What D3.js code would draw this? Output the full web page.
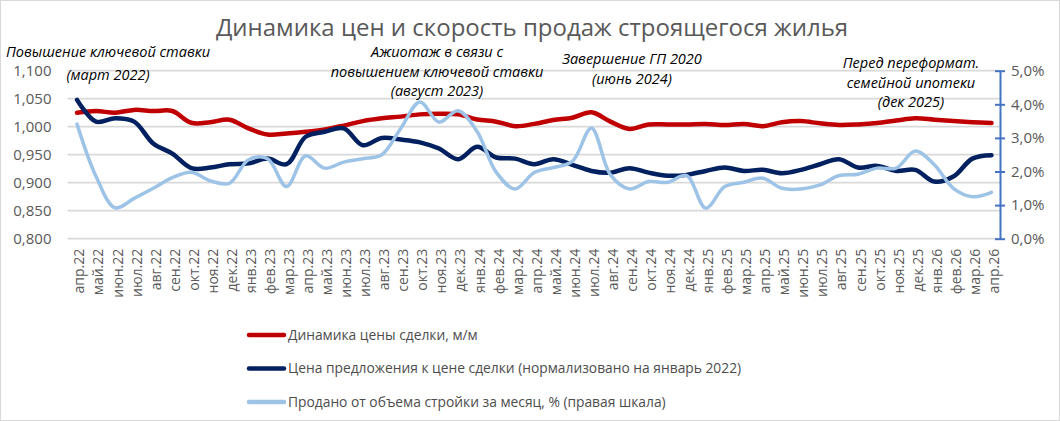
<!DOCTYPE html>
<html>
<head>
<meta charset="utf-8">
<script src="https://cdn.jsdelivr.net/npm/d3@7"></script>
<style>
  body { margin: 0; background: #fff; }
  text { font-family: "Open Sans", sans-serif; }
</style>
</head>
<body>
<script>
"use strict"

// categories: months apr.22 .. apr.26
var months = ["апр.22","май.22","июн.22","июл.22","авг.22","сен.22","окт.22","ноя.22","дек.22",
    "янв.23","фев.23","мар.23","апр.23","май.23","июн.23","июл.23","авг.23","сен.23","окт.23","ноя.23","дек.23",
    "янв.24","фев.24","мар.24","апр.24","май.24","июн.24","июл.24","авг.24","сен.24","окт.24","ноя.24","дек.24",
    "янв.25","фев.25","мар.25","апр.25","май.25","июн.25","июл.25","авг.25","сен.25","окт.25","ноя.25","дек.25",
    "янв.26","фев.26","мар.26","апр.26"];

// red: deal price dynamics, m/m (left axis)
var dealPrice = [1.025,1.028,1.025,1.030,1.028,1.028,1.007,1.008,1.0125,
    0.997,0.986,0.988,0.991,0.995,1.002,1.010,1.015,1.018,1.022,1.023,1.022,
    1.013,1.009,1.001,1.005,1.012,1.016,1.0256,1.009,0.996,1.004,1.004,1.004,
    1.005,1.003,1.005,1.001,1.008,1.010,1.006,1.003,1.004,1.0065,1.011,1.015,
    1.0125,1.010,1.008,1.0065];

// navy: offer price to deal price (left axis)
var offerRatio = [1.048,1.009,1.015,1.009,0.970,0.952,0.926,0.927,0.933,
    0.9345,0.943,0.933,0.982,0.991,0.997,0.967,0.980,0.977,0.972,0.961,0.942,
    0.964,0.945,0.943,0.933,0.942,0.932,0.921,0.918,0.926,0.918,0.9125,0.914,
    0.921,0.927,0.921,0.923,0.917,0.923,0.933,0.942,0.927,0.930,0.921,0.923,
    0.902,0.911,0.943,0.949];

// light blue: sold share of construction volume per month, % (right axis)
var soldShare = [3.41,1.85,0.92,1.20,1.50,1.82,1.98,1.72,1.65,
    2.35,2.38,1.55,2.47,2.10,2.28,2.38,2.50,3.29,4.07,3.47,3.81,
    3.19,1.98,1.48,1.97,2.12,2.30,3.29,1.90,1.48,1.70,1.68,1.88,
    0.91,1.55,1.68,1.80,1.50,1.48,1.60,1.88,1.92,2.10,2.10,2.61,
    2.20,1.50,1.25,1.38];

var leftTicks = [0.8, 0.85, 0.9, 0.95, 1.0, 1.05, 1.1];
var rightTicks = [0, 1, 2, 3, 4, 5];

var seriesNames = ["Динамика цены сделки, м/м",
    "Цена предложения к цене сделки (нормализовано на январь 2022)",
    "Продано от объема стройки за месяц, % (правая шкала)"];
var seriesColors = ["#c00000", "#002060", "#9dc3e6"];

var notes = [
    {lines: ["Повышение ключевой ставки"], x: 108, y: 57},
    {lines: ["(март 2022)"], x: 108, y: 80},
    {lines: ["Ажиотаж в связи с", "повышением ключевой ставки", "(август 2023)"], x: 437, y: 57},
    {lines: ["Завершение ГП 2020", "(июнь 2024)"], x: 632, y: 64},
    {lines: ["Перед переформат.", "семейной ипотеки", "(дек 2025)"], x: 911, y: 68}
];

var width = 1060, height = 421;
var plot = {left: 67.5, right: 1001, top: 70.7, bottom: 238.7};

var svg = d3.select("body").append("svg")
    .attr("width", width)
    .attr("height", height);

svg.append("rect")
    .attr("x", 0.5).attr("y", 0.5)
    .attr("width", width - 1).attr("height", height - 1)
    .attr("fill", "#fff")
    .attr("stroke", "#d9d9d9");

var x = d3.scalePoint()
    .domain(months)
    .range([plot.left, plot.right])
    .padding(0.5);

var yLeft = d3.scaleLinear().domain([0.8, 1.1]).range([plot.bottom, plot.top]);
var yRight = d3.scaleLinear().domain([0, 5]).range([plot.bottom, plot.top]);

var fmtLeft = function(d) { return d3.format(".3f")(d).replace(".", ","); };
var fmtRight = function(d) { return d3.format(".1f")(d).replace(".", ",") + "%"; };

// gridlines
svg.append("g")
  .selectAll("line")
  .data(leftTicks)
  .join("line")
    .attr("x1", plot.left)
    .attr("x2", 1000)
    .attr("y1", d => yLeft(d))
    .attr("y2", d => yLeft(d))
    .attr("stroke", "#d9d9d9")
    .attr("stroke-width", 1.8);

// left axis labels
var gLeft = svg.append("g")
    .attr("transform", "translate(" + plot.left + ",0)")
    .call(d3.axisLeft(yLeft).tickValues(leftTicks).tickFormat(fmtLeft).tickSize(0).tickPadding(16));
gLeft.select(".domain").remove();
gLeft.selectAll("text")
    .attr("fill", "#595959")
    .attr("font-size", "15px")
    .attr("font-family", "Open Sans, sans-serif");

// right axis
var gRight = svg.append("g")
    .attr("transform", "translate(1000,0)")
    .call(d3.axisRight(yRight).tickValues(rightTicks).tickFormat(fmtRight).tickSize(5).tickSizeOuter(0).tickPadding(6));
gRight.select(".domain").attr("stroke", "#4472c4").attr("stroke-width", 2);
gRight.selectAll(".tick line")
    .attr("x1", -5)
    .attr("stroke", "#4472c4")
    .attr("stroke-width", 2);
gRight.selectAll("text")
    .attr("fill", "#595959")
    .attr("font-size", "15px")
    .attr("font-family", "Open Sans, sans-serif");

// category axis
var gX = svg.append("g")
    .attr("transform", "translate(2," + (plot.bottom + 10) + ")")
    .call(d3.axisBottom(x).tickSize(0).tickPadding(0));
gX.select(".domain").remove();
gX.selectAll("text")
    .attr("transform", "rotate(-90)")
    .attr("text-anchor", "end")
    .attr("x", 0)
    .attr("y", 0)
    .attr("dy", "0.35em")
    .attr("fill", "#595959")
    .attr("font-size", "14px")
    .attr("font-family", "Open Sans, sans-serif");

// series lines
var lineLeft = d3.line()
    .x((d, i) => x(months[i]))
    .y(d => yLeft(d))
    .curve(d3.curveCatmullRom.alpha(0.5));
var lineRight = d3.line()
    .x((d, i) => x(months[i]))
    .y(d => yRight(d))
    .curve(d3.curveCatmullRom.alpha(0.5));

svg.append("path")
    .attr("d", lineLeft(dealPrice))
    .attr("fill", "none")
    .attr("stroke", seriesColors[0])
    .attr("stroke-width", 4.5)
    .attr("stroke-linejoin", "round")
    .attr("stroke-linecap", "round");

svg.append("path")
    .attr("d", lineLeft(offerRatio))
    .attr("fill", "none")
    .attr("stroke", seriesColors[1])
    .attr("stroke-width", 4.5)
    .attr("stroke-linejoin", "round")
    .attr("stroke-linecap", "round");

svg.append("path")
    .attr("d", lineRight(soldShare))
    .attr("fill", "none")
    .attr("stroke", seriesColors[2])
    .attr("stroke-width", 3.5)
    .attr("stroke-linejoin", "round")
    .attr("stroke-linecap", "round");

// title
svg.append("text")
    .attr("x", 532)
    .attr("y", 36)
    .attr("text-anchor", "middle")
    .attr("font-size", "24px")
    .attr("fill", "#595959")
    .text("Динамика цен и скорость продаж строящегося жилья");

// annotations
notes.forEach(function(n) {
    n.lines.forEach(function(t, k) {
        svg.append("text")
            .attr("x", n.x)
            .attr("y", n.y + k * 19.5)
            .attr("text-anchor", "middle")
            .attr("font-size", "14.5px")
            .attr("font-style", "italic")
            .attr("fill", "#000")
            .text(t);
    });
});

// legend
var legend = svg.append("g")
  .selectAll("g")
  .data(seriesNames)
  .join("g")
    .attr("transform", (d, i) => "translate(248," + (335 + i * 33.5) + ")");
legend.append("line")
    .attr("x1", 1).attr("x2", 36)
    .attr("stroke", (d, i) => seriesColors[i])
    .attr("stroke-width", 4.5)
    .attr("stroke-linecap", "round");
legend.append("text")
    .attr("x", 40)
    .attr("dy", "0.35em")
    .attr("font-size", "13.8px")
    .attr("fill", "#4d4d4d")
    .text(d => d);
</script>
</body>
</html>
